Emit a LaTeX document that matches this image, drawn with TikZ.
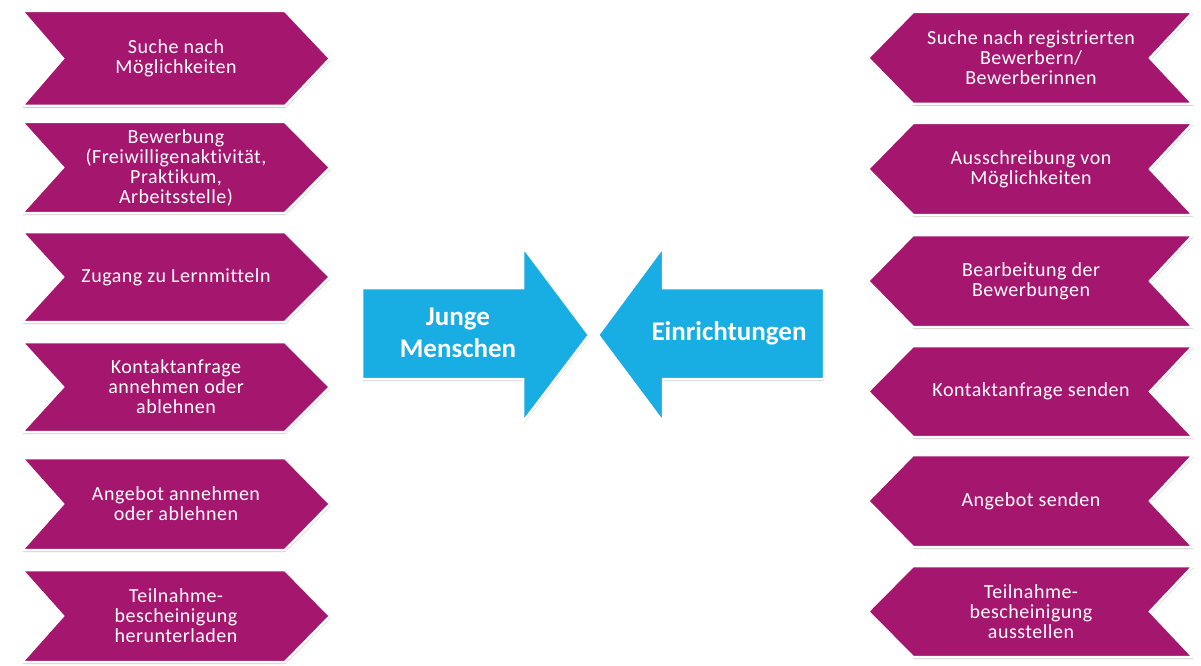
\documentclass[tikz,border=0pt]{standalone}
\usepackage{fontspec}
\setmainfont{Carlito}[Ligatures={NoCommon}]
\newfontfamily\chevfont{Carlito}[Ligatures={NoCommon}, LetterSpace=2.5]
\usetikzlibrary{shadows}
\definecolor{chevpurple}{HTML}{A5166F}
\definecolor{arrowblue}{HTML}{18ADE3}
\tikzset{
  chevshape/.style={fill=chevpurple, draw=white, line width=2.5pt, line join=miter,
    drop shadow={shadow xshift=0.5pt, shadow yshift=-2pt, opacity=0.35, fill=black!60}},
  arrowshape/.style={fill=arrowblue, draw=white, line width=2.5pt, line join=miter,
    drop shadow={shadow xshift=0.5pt, shadow yshift=-2pt, opacity=0.3, fill=black!60}},
  chevtext/.style={text=white, align=center, font=\chevfont\fontsize{20}{20}\selectfont, inner sep=0pt},
  arrowtext/.style={text=white, align=center, font=\fontsize{27}{32}\selectfont\bfseries, inner sep=0pt}
}
\newcommand{\leftchev}[5]{% top, bottom, mid, name, text
  \path[chevshape] (22,#1) -- (285,#1) -- (330,#3) -- (285,#2) -- (22,#2) -- (63,#3) -- cycle;
  \node[chevtext] (#4) at (176,#3) {#5};
}
\newcommand{\rightchev}[5]{%
  \path[chevshape] (913,#1) -- (1193,#1) -- (1150,#3) -- (1193,#2) -- (913,#2) -- (868,#3) -- cycle;
  \node[chevtext] (#4) at (1031,#3) {#5};
}
\begin{document}
\begin{tikzpicture}[x=1pt,y=-1pt]
\useasboundingbox (0,0) rectangle (1201,666);
\fill[white] (0,0) rectangle (1201,666);
% left column
\leftchev{11}{106}{58.5}{l1}{Suche nach\\Möglichkeiten}
\leftchev{122}{213}{167.5}{l2}{Bewerbung\\(Freiwilligenaktivität,\\Praktikum,\\Arbeitsstelle)}
\leftchev{232}{322}{277}{l3}{Zugang zu Lernmitteln}
\leftchev{342}{432}{387}{l4}{Kontaktanfrage\\annehmen oder\\ablehnen}
\leftchev{458}{550}{504}{l5}{Angebot annehmen\\oder ablehnen}
\leftchev{570}{662}{616}{l6}{Teilnahme-\\bescheinigung\\herunterladen}
% right column
\rightchev{12}{104}{58}{r1}{Suche nach registrierten\\Bewerbern/\\Bewerberinnen}
\rightchev{123}{215}{169}{r2}{Ausschreibung von\\Möglichkeiten}
\rightchev{235}{327}{281}{r3}{Bearbeitung der\\Bewerbungen}
\rightchev{346}{437}{391.5}{r4}{Kontaktanfrage senden}
\rightchev{455}{547}{501}{r5}{Angebot senden}
\rightchev{566}{657}{611.5}{r6}{Teilnahme-\\bescheinigung\\ausstellen}
% central arrows
\path[arrowshape] (362,288) -- (523,288) -- (523,247) -- (589,335) -- (523,422) -- (523,379) -- (362,379) -- cycle;
\path[arrowshape] (824,288) -- (663,288) -- (663,247) -- (598,335) -- (663,422) -- (663,379) -- (824,379) -- cycle;
\node[arrowtext] (young) at (458,333) {Junge\\Menschen};
\node[arrowtext] (inst) at (729,333) {Einrichtungen};
\end{tikzpicture}
\end{document}
